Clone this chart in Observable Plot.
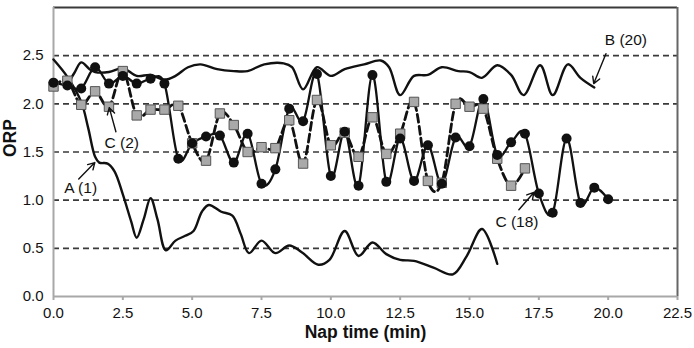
<!DOCTYPE html>
<html>
<head>
<meta charset="utf-8">
<script src="https://cdn.jsdelivr.net/npm/d3@7"></script>
<script src="https://cdn.jsdelivr.net/npm/@observablehq/plot@0.6"></script>
<style>
  html, body { margin: 0; padding: 0; background: #fff; }
  #chart { width: 694px; height: 348px; }
</style>
</head>
<body>
<div id="chart"></div>
<script>
// Tick positions
const xTicks = [0, 2.5, 5, 7.5, 10, 12.5, 15, 17.5, 20, 22.5];
const yTicks = [0, 0.5, 1, 1.5, 2, 2.5];
const gridLines = [0.5, 1, 1.5, 2, 2.5];

// C (18): measured points (black circles)
const c18Time = [0, 0.5, 1, 1.5, 2, 2.5, 3, 3.5, 4, 4.5, 5, 5.5, 6, 6.5, 7, 7.5, 8, 8.5, 9, 9.5,
  10, 10.5, 11, 11.5, 12, 12.5, 13, 13.5, 14, 14.5, 15, 15.5, 16, 16.5, 17, 17.5, 18, 18.5, 19, 19.5, 20];
const c18Orp = [2.22, 2.19, 2.16, 2.38, 2.21, 2.29, 2.21, 2.26, 2.21, 1.43, 1.59, 1.66, 1.67, 1.39, 1.69, 1.17, 1.32, 1.95, 1.82, 2.31,
  1.25, 1.71, 1.15, 2.30, 1.19, 1.64, 1.20, 1.57, 1.17, 1.65, 1.56, 2.05, 1.47, 1.60, 1.69, 1.07, 0.87, 1.64, 0.97, 1.13, 1.01];

// C (2): measured points (grey squares)
const c2Time = [0, 0.5, 1, 1.5, 2, 2.5, 3, 3.5, 4, 4.5, 5, 5.5, 6, 6.5, 7, 7.5, 8, 8.5, 9, 9.5,
  10, 10.5, 11, 11.5, 12, 12.5, 13, 13.5, 14, 14.5, 15, 15.5, 16, 16.5, 17];
const c2Orp = [2.18, 2.24, 1.99, 2.13, 1.97, 2.34, 1.88, 1.94, 1.94, 1.98, 1.59, 1.41, 1.90, 1.78, 1.50, 1.55, 1.54, 1.83, 1.38, 2.04,
  1.57, 1.70, 1.45, 1.86, 1.48, 1.69, 2.02, 1.20, 1.18, 2.00, 1.97, 1.95, 1.43, 1.15, 1.33];

// A (1): continuous trace
const aTime = [0, 0.5, 1, 1.25, 1.5, 1.65, 1.95, 2.2, 2.5, 2.8, 3, 3.25, 3.5, 3.75, 4.05, 4.4, 4.75, 5.05, 5.35, 5.6,
  6.05, 6.45, 6.75, 7.05, 7.5, 8, 8.5, 8.95, 9.55, 9.95, 10.5, 11, 11.5, 12, 12.5, 13, 13.7, 14.4, 14.9, 15.45, 16];
const aOrp = [2.46, 2.28, 2.02, 1.75, 1.45, 1.39, 1.38, 1.30, 1.06, 0.78, 0.61, 0.80, 1.02, 0.80, 0.48, 0.58, 0.63, 0.68, 0.88, 0.95,
  0.88, 0.84, 0.65, 0.45, 0.58, 0.45, 0.53, 0.46, 0.33, 0.38, 0.68, 0.42, 0.56, 0.44, 0.38, 0.37, 0.30, 0.23, 0.42, 0.70, 0.34];

// B (20): continuous trace
const bTime = [0.5, 0.75, 1, 1.3, 1.5, 2, 2.5, 3, 3.5, 4, 4.4, 4.85, 5.3, 5.9, 6.5, 7, 7.6, 8.3, 8.6, 9,
  9.5, 10, 10.5, 11.2, 11.8, 12.1, 12.5, 13, 13.5, 14, 14.6, 15, 15.45, 16, 16.5, 16.95, 17.55, 18, 18.55, 19, 19.5];
const bOrp = [2.20, 2.32, 2.43, 2.36, 2.33, 2.33, 2.37, 2.29, 2.30, 2.25, 2.29, 2.38, 2.41, 2.36, 2.34, 2.34, 2.41, 2.42, 2.38, 2.15,
  2.38, 2.29, 2.36, 2.41, 2.45, 2.38, 2.09, 2.29, 2.30, 2.38, 2.34, 2.33, 2.27, 2.40, 2.30, 2.09, 2.40, 2.09, 2.41, 2.27, 2.17];

// Callout labels: text anchor and arrow tail/head, in data units
const noteText = ["B (20)", "C (2)", "A (1)", "C (18)"];
const noteX = [20.64, 2.46, 0.98, 16.71];
const noteY = [2.66, 1.59, 1.13, 0.77];
const arrowX1 = [19.92, 2.25, 0.91, 16.78];
const arrowY1 = [2.52, 1.71, 1.22, 0.90];
const arrowX2 = [19.48, 2.01, 1.49, 17.32];
const arrowY2 = [2.21, 1.96, 1.39, 1.08];

const series = (ts, vs) => ts.map((t, i) => ({t, v: vs[i]}));
const c18 = series(c18Time, c18Orp);
const c2 = series(c2Time, c2Orp);
const traceA = series(aTime, aOrp);
const traceB = series(bTime, bOrp);
const notes = noteText.map((text, i) => ({
  text, tx: noteX[i], ty: noteY[i],
  x1: arrowX1[i], y1: arrowY1[i], x2: arrowX2[i], y2: arrowY2[i]
}));

const fmt = d3.format(".1f");

const chart = Plot.plot({
  width: 694,
  height: 348,
  marginLeft: 53,
  marginRight: 17,
  marginTop: 7,
  marginBottom: 52,
  style: {fontFamily: "'Liberation Sans', Arial, sans-serif", fontSize: "15px", color: "#111", background: "#fff", overflow: "visible"},
  x: {domain: [0, 22.5]},
  y: {domain: [0, 3]},
  marks: [
    Plot.ruleY(gridLines, {stroke: "#3a3a3a", strokeWidth: 1.6, strokeDasharray: "6,4"}),
    // plot-area border: top and right darker, axes lighter
    Plot.ruleY([3], {stroke: "#3a3a3a", strokeWidth: 2}),
    Plot.ruleX([22.5], {stroke: "#666", strokeWidth: 2}),
    Plot.axisX({ticks: xTicks, tickFormat: fmt, tickSize: 4, tickPadding: 7, stroke: "#a8a8a8", strokeWidth: 2, label: null, fontSize: 15}),
    Plot.axisY({ticks: yTicks, tickFormat: fmt, tickSize: 0, tickPadding: 10, label: null, fontSize: 15}),
    Plot.ruleY([0], {stroke: "#a8a8a8", strokeWidth: 2}),
    Plot.ruleX([0], {stroke: "#a8a8a8", strokeWidth: 2}),
    // traces
    Plot.line(traceA, {x: "t", y: "v", curve: "catmull-rom", stroke: "#111", strokeWidth: 2.4}),
    Plot.line(traceB, {x: "t", y: "v", curve: "catmull-rom", stroke: "#111", strokeWidth: 2.4}),
    Plot.line(c2, {x: "t", y: "v", curve: "cardinal", tension: 0, stroke: "#111", strokeWidth: 2.8, strokeDasharray: "8,4"}),
    Plot.line(c18, {x: "t", y: "v", curve: "cardinal", tension: 0, stroke: "#111", strokeWidth: 2.3}),
    Plot.dot(c2, {x: "t", y: "v", symbol: "square", r: 5.3, fill: "#a9a9a9", stroke: "#555", strokeWidth: 1}),
    Plot.dot(c18, {x: "t", y: "v", r: 5, fill: "#111", stroke: "none"}),
    // callouts
    Plot.arrow(notes, {x1: "x1", y1: "y1", x2: "x2", y2: "y2", stroke: "#111", strokeWidth: 1.4, headLength: 8}),
    Plot.text(notes, {x: "tx", y: "ty", text: "text", fontSize: 15.5, fill: "#111"}),
    // axis titles
    Plot.text(["Nap time (min)"], {frameAnchor: "bottom", dy: 41, fontSize: 17.5, fontWeight: "bold", fill: "#111"}),
    Plot.text(["ORP"], {frameAnchor: "left", dx: -43, dy: 5, rotate: -90, fontSize: 17.5, fontWeight: "bold", fill: "#111"})
  ]
});

document.getElementById("chart").append(chart);
</script>
</body>
</html>
